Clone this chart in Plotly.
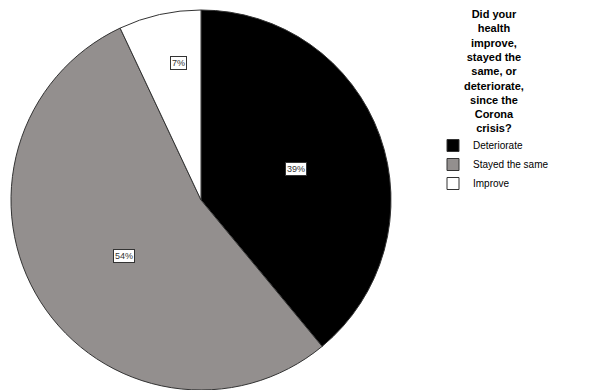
import math
import plotly.graph_objects as go

labels = ["Deteriorate", "Stayed the same", "Improve"]
values = [39, 54, 7]
pct_text = ["39%", "54%", "7%"]
colors = ["#000000", "#938f8e", "#ffffff"]
title_lines = ["Did your", "health", "improve,", "stayed the", "same, or",
               "deteriorate,", "since the", "Corona", "crisis?"]

W, H = 608, 390
cx, cy, R = 201, 200, 190
label_frac = [0.526, 0.50, 0.73]
label_shift_deg = [1.6, -3.6, 3.2]

fig = go.Figure(go.Pie(
    labels=labels, values=values, sort=False, direction="clockwise", rotation=0,
    marker=dict(colors=colors, line=dict(color="#333333", width=1)),
    textinfo="none", hoverinfo="label+percent",
    domain=dict(x=[(cx - R) / W, (cx + R) / W], y=[(H - cy - R) / H, (H - cy + R) / H]),
))

annotations = []
total = sum(values)
cum = 0
for v, t, f, s in zip(values, pct_text, label_frac, label_shift_deg):
    mid = (cum + v / 2) / total * 2 * math.pi + math.radians(s)
    cum += v
    px = cx + R * f * math.sin(mid)
    py = cy - R * f * math.cos(mid)
    annotations.append(dict(x=px / W, y=1 - py / H, xref="paper", yref="paper", text=t,
                            showarrow=False, bgcolor="white", bordercolor="#333333",
                            borderwidth=1, borderpad=1, xanchor="center", yanchor="middle",
                            font=dict(family="Liberation Sans, Arial", size=9, color="#333333")))

annotations.append(dict(x=494 / W, y=1 - 71 / H, xref="paper", yref="paper",
                        text="<br>".join("<b>%s</b>" % l for l in title_lines),
                        showarrow=False, xanchor="center", yanchor="middle", align="center",
                        font=dict(family="Liberation Sans, Arial", size=11, color="#000000")))

fig.update_layout(
    width=W, height=H, margin=dict(l=0, r=0, t=0, b=0),
    paper_bgcolor="white", plot_bgcolor="white",
    showlegend=True,
    legend=dict(x=433 / W, y=1 - 131 / H, xanchor="left", yanchor="top",
                font=dict(family="Liberation Sans, Arial", size=10, color="#000000"),
                bgcolor="rgba(0,0,0,0)", tracegroupgap=0),
    annotations=annotations,
)
fig.write_html("out.html")
